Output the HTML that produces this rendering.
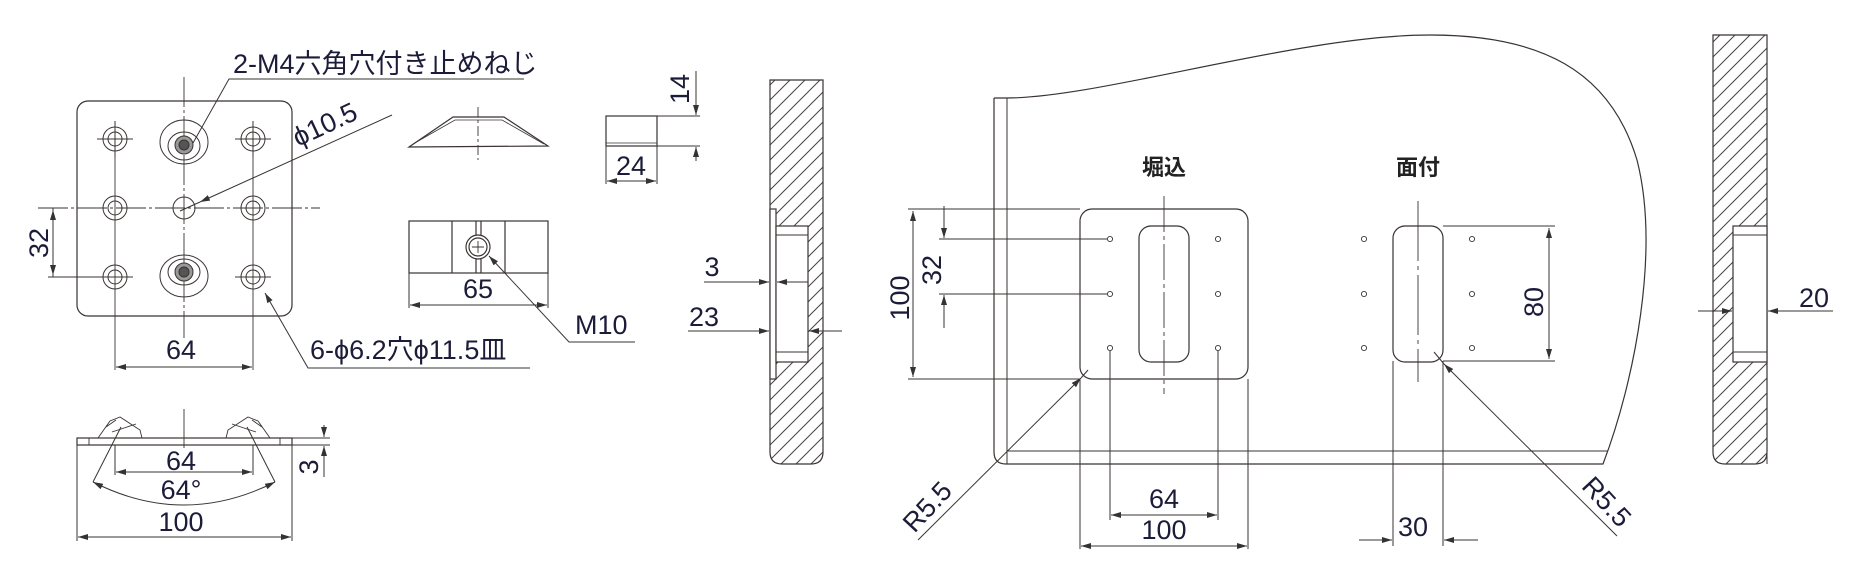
<!DOCTYPE html>
<html><head><meta charset="utf-8"><style>
html,body{margin:0;padding:0;background:#fff;}
svg{display:block;}
text{font-family:"Liberation Sans","Noto Sans CJK JP",sans-serif;fill:#1c1c3a;}
</style></head><body>
<svg width="1862" height="584" viewBox="0 0 1862 584" xmlns="http://www.w3.org/2000/svg">
<defs>
<marker id="a" viewBox="0 0 10 6" refX="10" refY="3" markerWidth="10" markerHeight="6" markerUnits="userSpaceOnUse" orient="auto-start-reverse"><path d="M0,0 L10,3 L0,6 z" fill="#333"/></marker>
<pattern id="h" width="15" height="15" patternUnits="userSpaceOnUse"><path d="M-2,17 L17,-2 M-2,2 L2,-2 M13,17 L17,13" stroke="#444" stroke-width="1"/></pattern>
</defs>
<g fill="none" stroke="#3a3333" stroke-width="1.2">
<rect x="77" y="101" width="215" height="215" rx="11"/>
<line x1="184" y1="77" x2="184" y2="338" stroke-dasharray="30,3,3,3" stroke-width="0.9"/>
<line x1="38" y1="208" x2="320" y2="208" stroke-dasharray="30,3,3,3" stroke-width="0.9"/>
<line x1="115" y1="130" x2="115" y2="370" stroke-width="0.9"/>
<line x1="253" y1="130" x2="253" y2="370" stroke-width="0.9"/>
<g stroke-width="1">
<circle cx="115" cy="139" r="12"/><circle cx="115" cy="139" r="7"/><path d="M97,139 H133 M115,121 V157"/>
<circle cx="253" cy="139" r="12"/><circle cx="253" cy="139" r="7"/><path d="M235,139 H271 M253,121 V157"/>
<circle cx="115" cy="208" r="12"/><circle cx="115" cy="208" r="7"/>
<circle cx="253" cy="208" r="12"/><circle cx="253" cy="208" r="7"/>
<circle cx="115" cy="277" r="12"/><circle cx="115" cy="277" r="7"/><path d="M97,277 H133"/>
<circle cx="253" cy="277" r="12"/><circle cx="253" cy="277" r="7"/><path d="M235,277 H271"/>
<circle cx="184" cy="208" r="11"/>
<ellipse cx="184" cy="142" rx="24" ry="22"/><ellipse cx="184" cy="146" rx="16" ry="14"/>
<circle cx="184" cy="145" r="9" fill="#999"/><circle cx="184" cy="145" r="5" fill="#555"/>
<ellipse cx="184" cy="276" rx="24" ry="21"/><ellipse cx="184" cy="272" rx="16" ry="13"/>
<circle cx="184" cy="272" r="9" fill="#999"/><circle cx="184" cy="272" r="5" fill="#555"/>
</g>
<path d="M524,79 H229 L193,143" stroke-width="1"/>
<line x1="392" y1="115" x2="200" y2="202" stroke-width="1" marker-end="url(#a)"/>
<line x1="200" y1="202" x2="180" y2="211" stroke-width="1"/>
<path d="M530,368 H308 L265,293" stroke-width="1" marker-end="url(#a)"/>
<path d="M53,208 V277 M103,277 H48" stroke-width="1"/>
<line x1="53" y1="210" x2="53" y2="275" stroke-width="1" marker-start="url(#a)" marker-end="url(#a)"/>
<line x1="116" y1="367" x2="252" y2="367" stroke-width="1" marker-start="url(#a)" marker-end="url(#a)"/>

<path d="M409,147 L453,117 H504 L548,146 Z"/>
<path d="M413,144 L455,120 H502 L544,144" stroke-width="0.8"/>
<line x1="478" y1="107" x2="478" y2="160" stroke-width="0.9" stroke-dasharray="10,3,3,3"/>
<rect x="409" y="221" width="139" height="52"/>
<path d="M452,221 V273 M505,221 V273 M476,221 V273 M481,221 V273"/>
<circle cx="478" cy="247" r="12" fill="#fff"/><circle cx="478" cy="247" r="9"/><path d="M472,247 H484 M478,241 V253" stroke-width="0.9"/>
<path d="M409,273 V308 M548,273 V308" stroke-width="1"/>
<line x1="410" y1="305" x2="547" y2="305" stroke-width="1" marker-start="url(#a)" marker-end="url(#a)"/>
<path d="M635,342 H569 L489,256" stroke-width="1" marker-end="url(#a)"/>

<rect x="77" y="438" width="215" height="7"/>
<path d="M89,438 V445 M280,438 V445" stroke-width="0.9"/>
<path d="M98,438 L110,421 L120,417 L140,430 L142,438 M106,427 L116,420 M112,432 L136,424" stroke-width="0.9"/>
<path d="M270,438 L258,421 L248,417 L228,430 L226,438 M262,427 L252,420 M256,432 L232,424" stroke-width="0.9"/>
<line x1="184" y1="409" x2="184" y2="448" stroke-width="0.9"/>
<path d="M115,445 V475 M253,445 V475 M77,445 V541 M292,445 V541" stroke-width="1"/>
<path d="M121,427 L93,482 M247,427 L275,482" stroke-width="1"/>
<line x1="116" y1="472" x2="252" y2="472" stroke-width="1" marker-start="url(#a)" marker-end="url(#a)"/>
<path d="M93,482 Q184,528 275,482" stroke-width="1" marker-start="url(#a)" marker-end="url(#a)"/>
<line x1="78" y1="537" x2="291" y2="537" stroke-width="1" marker-start="url(#a)" marker-end="url(#a)"/>
<path d="M292,438 H330 M292,445 H330" stroke-width="1"/>
<line x1="324" y1="425" x2="324" y2="437" stroke-width="1" marker-end="url(#a)"/>
<line x1="324" y1="477" x2="324" y2="446" stroke-width="1" marker-end="url(#a)"/>

<rect x="606" y="116" width="51" height="30"/>
<line x1="606" y1="143" x2="657" y2="143" stroke-width="0.8"/>
<path d="M657,116 H700 M657,146 H700 M606,146 V184 M657,146 V184" stroke-width="1"/>
<line x1="696" y1="71" x2="696" y2="115" stroke-width="1" marker-end="url(#a)"/>
<line x1="696" y1="161" x2="696" y2="147" stroke-width="1" marker-end="url(#a)"/>
<line x1="607" y1="181" x2="656" y2="181" stroke-width="1" marker-start="url(#a)" marker-end="url(#a)"/>

<path d="M770,80 H823 V452 Q823,464 811,464 H782 Q770,464 770,452 Z" fill="url(#h)"/>
<rect x="770" y="209" width="6" height="170" fill="#fff"/>
<rect x="776" y="226" width="32" height="136" fill="#fff"/>
<path d="M776,209 V379 M776,226 H808 V362 H776 M776,235 H808 M776,352 H808" stroke-width="1"/>
<line x1="704" y1="282" x2="769" y2="282" stroke-width="1" marker-end="url(#a)"/>
<line x1="808" y1="282" x2="777" y2="282" stroke-width="1" marker-end="url(#a)"/>
<line x1="688" y1="331" x2="769" y2="331" stroke-width="1" marker-end="url(#a)"/>
<line x1="842" y1="331" x2="809" y2="331" stroke-width="1" marker-end="url(#a)"/>

<path d="M994,98 V452 Q994,464 1006,464 H1603 C1635,380 1660,250 1637,160 C1610,70 1540,35 1430,35 C1300,35 1100,98 1007,98 H994"/>
<path d="M1007,98 V464 M1007,451 H1608" stroke-width="1"/>
<rect x="1080" y="209" width="168" height="170" rx="12"/>
<rect x="1139" y="226" width="50" height="136" rx="12"/>
<line x1="1164" y1="196" x2="1164" y2="394" stroke-width="0.9" stroke-dasharray="36,4,4,4"/>
<g stroke-width="0.9">
<circle cx="1110" cy="239" r="2.6"/><circle cx="1110" cy="294" r="2.6"/><circle cx="1110" cy="348" r="2.6"/>
<circle cx="1218" cy="239" r="2.6"/><circle cx="1218" cy="294" r="2.6"/><circle cx="1218" cy="348" r="2.6"/>
<circle cx="1364" cy="239" r="2.6"/><circle cx="1364" cy="294" r="2.6"/><circle cx="1364" cy="348" r="2.6"/>
<circle cx="1472" cy="239" r="2.6"/><circle cx="1472" cy="294" r="2.6"/><circle cx="1472" cy="348" r="2.6"/>
</g>
<path d="M908,209 H1080 M908,379 H1080 M939,239 H1107 M939,294 H1107" stroke-width="1"/>
<line x1="913" y1="211" x2="913" y2="377" stroke-width="1" marker-start="url(#a)" marker-end="url(#a)"/>
<line x1="944" y1="206" x2="944" y2="238" stroke-width="1" marker-end="url(#a)"/>
<line x1="944" y1="328" x2="944" y2="295" stroke-width="1" marker-end="url(#a)"/>
<line x1="918" y1="540" x2="1081" y2="378" stroke-width="1" marker-end="url(#a)"/>
<line x1="1081" y1="378" x2="1088" y2="370" stroke-width="1"/>
<path d="M1080,379 V549 M1248,379 V549 M1110,351 V520 M1218,351 V520" stroke-width="1"/>
<line x1="1111" y1="515" x2="1217" y2="515" stroke-width="1" marker-start="url(#a)" marker-end="url(#a)"/>
<line x1="1081" y1="546" x2="1247" y2="546" stroke-width="1" marker-start="url(#a)" marker-end="url(#a)"/>

<rect x="1393" y="226" width="50" height="136" rx="12"/>
<line x1="1418" y1="201" x2="1418" y2="382" stroke-width="0.9" stroke-dasharray="60,5,4,5"/>
<path d="M1443,226 H1555 M1443,361 H1555 M1393,361 V546 M1443,361 V546" stroke-width="1"/>
<line x1="1549" y1="228" x2="1549" y2="359" stroke-width="1" marker-start="url(#a)" marker-end="url(#a)"/>
<line x1="1617" y1="536" x2="1444" y2="364" stroke-width="1" marker-end="url(#a)"/>
<line x1="1444" y1="364" x2="1434" y2="352" stroke-width="1"/>
<line x1="1359" y1="540" x2="1392" y2="540" stroke-width="1" marker-end="url(#a)"/>
<line x1="1478" y1="540" x2="1444" y2="540" stroke-width="1" marker-end="url(#a)"/>

<path d="M1713,35 H1767 V452 Q1767,464 1755,464 H1725 Q1713,464 1713,452 Z" fill="url(#h)"/>
<rect x="1733" y="226" width="34" height="136" fill="#fff"/>
<path d="M1733,226 H1767 M1733,226 V362 H1767 M1733,235 H1767 M1733,352 H1767 M1767,35 V464" stroke-width="1"/>
<line x1="1698" y1="311" x2="1732" y2="311" stroke-width="1" marker-end="url(#a)"/>
<line x1="1833" y1="311" x2="1768" y2="311" stroke-width="1" marker-end="url(#a)"/>
</g>

<g font-size="27">
<text x="233" y="73">2-M4六角穴付き止めねじ</text>
<text x="0" y="0" transform="translate(298,147) rotate(-25)">ϕ10.5</text>
<text x="0" y="0" text-anchor="middle" transform="translate(48,243) rotate(-90)">32</text>
<text x="181" y="359" text-anchor="middle">64</text>
<text x="310" y="359">6-ϕ6.2穴ϕ11.5皿</text>
<text x="478" y="298" text-anchor="middle">65</text>
<text x="575" y="334">M10</text>
<text x="181" y="470" text-anchor="middle">64</text>
<text x="181" y="499" text-anchor="middle">64°</text>
<text x="181" y="531" text-anchor="middle">100</text>
<text x="0" y="0" text-anchor="middle" transform="translate(318,467) rotate(-90)">3</text>
<text x="0" y="0" text-anchor="middle" transform="translate(689,89) rotate(-90)">14</text>
<text x="631" y="175" text-anchor="middle">24</text>
<text x="712" y="276" text-anchor="middle">3</text>
<text x="704" y="326" text-anchor="middle">23</text>
<text x="0" y="0" text-anchor="middle" transform="translate(909,298) rotate(-90)">100</text>
<text x="0" y="0" text-anchor="middle" transform="translate(941,270) rotate(-90)">32</text>
<text x="0" y="0" text-anchor="middle" transform="translate(934,513) rotate(-47)">R5.5</text>
<text x="1164" y="508" text-anchor="middle">64</text>
<text x="1164" y="539" text-anchor="middle">100</text>
<text x="0" y="0" text-anchor="middle" transform="translate(1543,302) rotate(-90)">80</text>
<text x="0" y="0" text-anchor="middle" transform="translate(1600,508) rotate(47)">R5.5</text>
<text x="1413" y="536" text-anchor="middle">30</text>
<text x="1814" y="307" text-anchor="middle">20</text>
</g>
<g font-size="22" font-weight="bold">
<text x="1164" y="175" text-anchor="middle" style="fill:#222">堀込</text>
<text x="1418" y="175" text-anchor="middle" style="fill:#222">面付</text>
</g>
</svg>
</body></html>
